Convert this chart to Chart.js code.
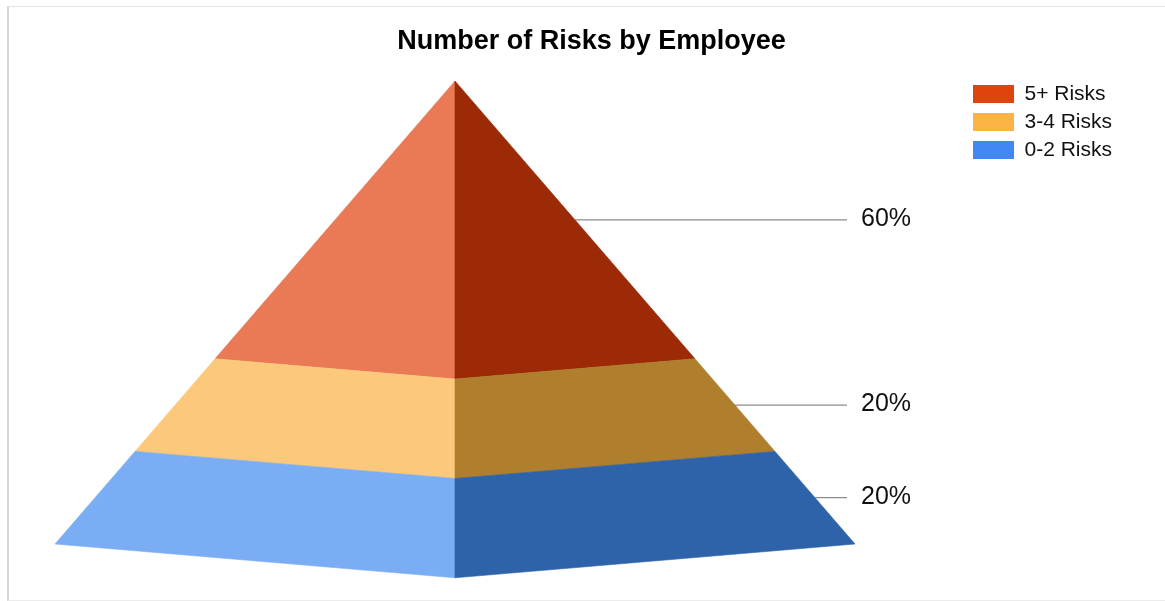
<!DOCTYPE html>
<html>
<head>
<meta charset="utf-8">
<title>Number of Risks by Employee</title>
<script src="https://cdn.jsdelivr.net/npm/chart.js@4.4.1/dist/chart.umd.min.js"></script>
<style>
  html, body { margin: 0; padding: 0; background: #fff; }
  .frame { position: absolute; left: 7px; top: 6px; width: 1160px; height: 593px;
           border-left: 2px solid #d6d6d6; border-top: 1px solid #e2e2e2; border-bottom: 1px solid #ececec; }
  .wrap { position: absolute; left: 0; top: 0; width: 1165px; height: 601px; }
</style>
</head>
<body>
<div class="frame"></div>
<div class="wrap"><canvas id="pyr"></canvas></div>
<script>
// pyramid bands, listed from the tip down
const categories = ["5+ Risks", "3-4 Risks", "0-2 Risks"];
const shares = [60, 20, 20];
const valueLabels = ["60%", "20%", "20%"];

const legendColors = ["#e0440e", "#fbb445", "#4287f3"];
const lightFace = ["#ea7a55", "#fcc97c", "#7badf4"];
const darkFace = ["#9c2a06", "#b07f2e", "#2e62a9"];

const FONT = "'Liberation Sans', Arial, Helvetica, sans-serif";
const W = 1165, H = 601;

// where the pyramid sits (px) and how far the front ridge drops (y units at the base)
const BASE_L = 55, BASE_R = 855, BASE_Y = 544, APEX_Y = 81;
const DEPTH = 7.3;
const LEADER_END = 0.98;   // x (half-widths) where leader lines stop

// band extents on a 0..100 height axis, bottom = 0
const bands = [];
let level = 100;
shares.forEach(s => { bands.push({ lo: level - s, hi: level }); level -= s; });
const halfWidth = v => 1 - v / 100;

// legend geometry, so the plot area ends where the legend starts
const LEG = { box: 41, boxH: 18, size: 21, pad: 7, left: 973 };
const mctx = document.createElement("canvas").getContext("2d");
mctx.font = LEG.size + "px " + FONT;
const maxText = Math.max(...categories.map(t => mctx.measureText(t).width));
const legendWidth = LEG.pad + LEG.box + LEG.size / 2 + maxText + 10;
const areaRight = LEG.left - LEG.pad;
const padRight = W - areaRight - legendWidth;
const padLeft = padRight + 18;
const areaTop = 76.5, areaBottom = H;

const xUnit = (BASE_R - BASE_L) / 2;
const yUnit = (BASE_Y - APEX_Y) / 100;

function fillPoly(ctx, pts, color) {
  ctx.beginPath();
  pts.forEach(([px, py], i) => i ? ctx.lineTo(px, py) : ctx.moveTo(px, py));
  ctx.closePath();
  ctx.fillStyle = color;
  ctx.strokeStyle = color;
  ctx.lineWidth = 0.6;
  ctx.fill();
  ctx.stroke();
}

const pyramid = {
  id: "pyramid",
  beforeDatasetsDraw(chart) {
    const { ctx, scales: { x, y } } = chart;
    const px = ([u, v]) => [x.getPixelForValue(u), y.getPixelForValue(v)];
    ctx.save();
    bands.forEach((b, i) => {
      const h0 = halfWidth(b.lo), h1 = halfWidth(b.hi);
      const face = [[-h0, b.lo], [0, b.lo - DEPTH * h0], [0, b.hi - DEPTH * h1], [-h1, b.hi]];
      fillPoly(ctx, face.map(px), lightFace[i]);
      fillPoly(ctx, face.map(([u, v]) => px([-u, v])), darkFace[i]);
    });
    ctx.restore();
  },
  afterDatasetsDraw(chart) {
    const { ctx, scales: { x, y } } = chart;
    ctx.save();
    ctx.font = "25px " + FONT;
    ctx.fillStyle = "#111";
    ctx.textBaseline = "middle";
    ctx.textAlign = "left";
    bands.forEach((b, i) => {
      const mid = (b.lo + b.hi) / 2;
      ctx.fillText(valueLabels[i], x.getPixelForValue(LEADER_END) + 14, y.getPixelForValue(mid) - 0.5);
    });
    ctx.restore();
  }
};

// one dataset per band: its leader line from the right face out to the label
const datasets = bands.map((b, i) => {
  const mid = (b.lo + b.hi) / 2;
  return {
    label: categories[i],
    data: [{ x: halfWidth(mid), y: mid }, { x: LEADER_END, y: mid }],
    showLine: true,
    borderColor: "#6f6f6f",
    borderWidth: 1,
    backgroundColor: legendColors[i],
    pointRadius: 0,
    pointHoverRadius: 0
  };
});

Chart.defaults.font.family = FONT;
Chart.defaults.color = "#111";

new Chart(document.getElementById("pyr"), {
  type: "scatter",
  data: { datasets },
  plugins: [pyramid],
  options: {
    responsive: true,
    maintainAspectRatio: false,
    animation: false,
    layout: { padding: { top: 15, left: padLeft, right: padRight, bottom: 0 } },
    scales: {
      x: { type: "linear", display: false,
           min: -1 - (BASE_L - padLeft) / xUnit, max: 1 + (areaRight - BASE_R) / xUnit },
      y: { type: "linear", display: false,
           min: -(areaBottom - BASE_Y) / yUnit, max: 100 + (APEX_Y - areaTop) / yUnit }
    },
    plugins: {
      title: {
        display: true,
        text: "Number of Risks by Employee",
        color: "#000",
        font: { size: 27, weight: "bold" },
        padding: { top: 10, bottom: 19.1 }
      },
      legend: {
        position: "right",
        align: "start",
        fullSize: false,
        labels: {
          boxWidth: LEG.box,
          boxHeight: LEG.boxH,
          padding: LEG.pad,
          font: { size: LEG.size },
          color: "#111",
          generateLabels: chart =>
            Chart.defaults.plugins.legend.labels.generateLabels(chart).map(l => ({ ...l, lineWidth: 0 }))
        }
      },
      tooltip: { enabled: false }
    }
  }
});
</script>
</body>
</html>
